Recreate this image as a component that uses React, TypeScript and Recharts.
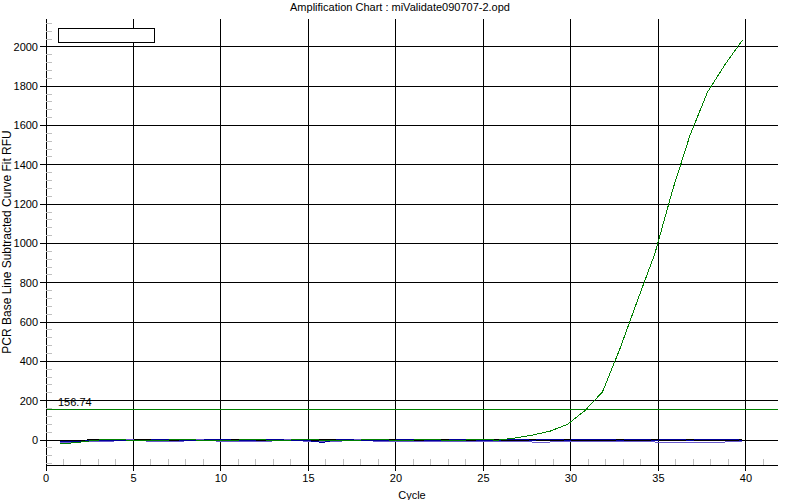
import React from "react"
import {
  ComposedChart,
  Line,
  XAxis,
  YAxis,
  CartesianGrid,
  ReferenceLine,
} from "recharts"

// cycle positions of the sampled points
const cycles = [
  0.8, 1.8, 2.8, 3.8, 4.8, 5.8, 6.8, 7.8, 8.8, 9.8,
  10.8, 11.8, 12.8, 13.8, 14.8, 15.8, 16.8, 17.8, 18.8, 19.8,
  20.8, 21.8, 22.8, 23.8, 24.8, 25.8, 26.8, 27.8, 28.8, 29.8,
  30.8, 31.8, 32.8, 33.8, 34.8, 35.8, 36.8, 37.8, 38.8, 39.8,
]

// amplified sample (green)
const sampleA = [
  -20, -12, -1, 4, -1, -1, -1, 4, -1, -1,
  -1, 4, -1, -1, 4, -1, -1, -1, 4, -1,
  -1, 4, -1, -1, 4, -1, 10, 25, 45, 80,
  150, 245, 465, 710, 950, 1270, 1550, 1770, 1910, 2035,
]

// flat wells
const sampleB = [
  -3, -5, 4, -1, -1, 4, -1, -1, -1, -1,
  4, -1, -1, -1, -1, 4, -1, -1, -1, 4,
  -1, -1, 4, -1, -1, 4, -1, 4, -1, 4,
  -1, -1, 4, -1, 4, -1, 4, -1, -1, 4,
]
const sampleC = [
  -10, -8, -1, -1, -1, -1, 4, -1, -1, 4,
  -1, -1, 4, -1, -1, -12, 4, -1, -1, -1,
  4, -1, -1, 4, -1, -1, 4, -1, 4, -1,
  4, 4, -1, 4, -1, 4, -1, 4, 4, -1,
]
const sampleD = [
  -12, -10, -6, -6, 4, -6, -6, -6, 4, -6,
  -6, -6, -6, 4, -6, -6, -6, 4, -6, -6,
  -6, -6, -8, -10, -8, -10, -8, -10, -10, -8,
  -10, -8, -10, -8, -10, -12, -15, -15, -10, -8,
]

const threshold = 156.74

const xMajor = [0, 5, 10, 15, 20, 25, 30, 35, 40]
const xTicks = [
  0, 1, 2, 3, 4, 5, 6, 7, 8, 9, 10, 11, 12, 13, 14, 15, 16, 17, 18, 19, 20,
  21, 22, 23, 24, 25, 26, 27, 28, 29, 30, 31, 32, 33, 34, 35, 36, 37, 38, 39, 40, 41,
]
const yMajor = [0, 200, 400, 600, 800, 1000, 1200, 1400, 1600, 1800, 2000]
const yTicks = [
  -120, -80, -40, 0, 40, 80, 120, 160, 200, 240, 280, 320, 360, 400, 440, 480,
  520, 560, 600, 640, 680, 720, 760, 800, 840, 880, 920, 960, 1000, 1040, 1080,
  1120, 1160, 1200, 1240, 1280, 1320, 1360, 1400, 1440, 1480, 1520, 1560, 1600,
  1640, 1680, 1720, 1760, 1800, 1840, 1880, 1920, 1960, 2000, 2040, 2080, 2120,
]

const data = cycles.map((c, i) => ({
  cycle: c,
  a: sampleA[i],
  b: sampleB[i],
  c: sampleC[i],
  d: sampleD[i],
}))

const FONT = "'Liberation Sans', Arial, sans-serif"

function XTick(props: any) {
  const { x, y, payload } = props
  const v = payload.value
  if (v % 5 === 0) {
    return (
      <g>
        <line x1={x} x2={x} y1={y} y2={y + 6} stroke="#000" />
        <text x={x} y={y + 9} dy="0.71em" textAnchor="middle" fontSize={11} fontFamily={FONT} fill="#000">
          {v}
        </text>
      </g>
    )
  }
  return <line x1={x} x2={x} y1={y} y2={y - 6} stroke="#c0c0c0" />
}

function YTick(props: any) {
  const { x, y, payload } = props
  const v = payload.value
  if (v % 200 === 0) {
    return (
      <g>
        <line x1={x - 6} x2={x} y1={y} y2={y} stroke="#000" />
        <text x={x - 8} y={y} dy="0.355em" textAnchor="end" fontSize={11} fontFamily={FONT} fill="#000">
          {v}
        </text>
      </g>
    )
  }
  return <line x1={x} x2={x + 6} y1={y} y2={y} stroke="#c0c0c0" />
}

export default function App() {
  return (
    <div style={{ position: "absolute", left: 0, top: 0, width: 800, height: 500, background: "#fff" }}>
      <style>{".recharts-wrapper svg line, .recharts-wrapper svg path { shape-rendering: crispEdges; }"}</style>
      <div
        style={{
          position: "absolute",
          left: 0,
          top: 0,
          width: 800,
          textAlign: "center",
          fontFamily: FONT,
          fontSize: 11,
          lineHeight: "14px",
        }}
      >
        Amplification Chart : miValidate090707-2.opd
      </div>
      <ComposedChart
        width={800}
        height={500}
        data={data}
        margin={{ top: 19, right: 22, bottom: 0, left: 0 }}
      >
        <CartesianGrid
          stroke="#000"
          horizontalValues={yMajor}
          verticalValues={xMajor}
        />
        <XAxis
          dataKey="cycle"
          type="number"
          domain={[0, 41.83]}
          ticks={xTicks}
          interval={0}
          allowDataOverflow
          height={35}
          tickSize={0}
          tickMargin={0}
          tickLine={false}
          axisLine={{ stroke: "#000" }}
          tick={<XTick />}
          label={{
            value: "Cycle",
            position: "insideBottom",
            offset: 1,
            fontSize: 11,
            fontFamily: FONT,
            fill: "#000",
          }}
        />
        <XAxis xAxisId="top" orientation="top" height={0} tick={false} tickLine={false} axisLine={{ stroke: "#000" }} />
        <YAxis
          type="number"
          domain={[-127, 2142]}
          ticks={yTicks}
          interval={0}
          allowDataOverflow
          width={46}
          tickSize={0}
          tickMargin={0}
          tickLine={false}
          axisLine={{ stroke: "#000" }}
          tick={<YTick />}
          label={{
            value: "PCR Base Line Subtracted Curve Fit RFU",
            angle: -90,
            position: "insideLeft",
            offset: 7,
            fontSize: 12,
            fontFamily: FONT,
            fill: "#000",
            style: { textAnchor: "middle" },
          }}
        />
        <YAxis yAxisId="right" orientation="right" width={0} tick={false} tickLine={false} axisLine={{ stroke: "#000" }} />
        <ReferenceLine
          y={threshold}
          stroke="#008000"
          label={({ viewBox }: any) => (
            <text x={viewBox.x + 12} y={viewBox.y - 3} fontSize={11} fontFamily={FONT} fill="#000">
              {threshold}
            </text>
          )}
        />
        <Line type="linear" dataKey="d" stroke="#6a5acd" strokeWidth={1} dot={false} isAnimationActive={false} />
        <Line type="linear" dataKey="b" stroke="#000000" strokeWidth={1} dot={false} isAnimationActive={false} />
        <Line type="linear" dataKey="c" stroke="#000099" strokeWidth={1} dot={false} isAnimationActive={false} />
        <Line type="linear" dataKey="a" stroke="#008000" strokeWidth={1} dot={false} isAnimationActive={false} />
      </ComposedChart>
      <div
        style={{
          position: "absolute",
          left: 58,
          top: 28,
          width: 97,
          height: 15,
          boxSizing: "border-box",
          border: "1px solid #000",
          background: "#fff",
        }}
      />
    </div>
  )
}
